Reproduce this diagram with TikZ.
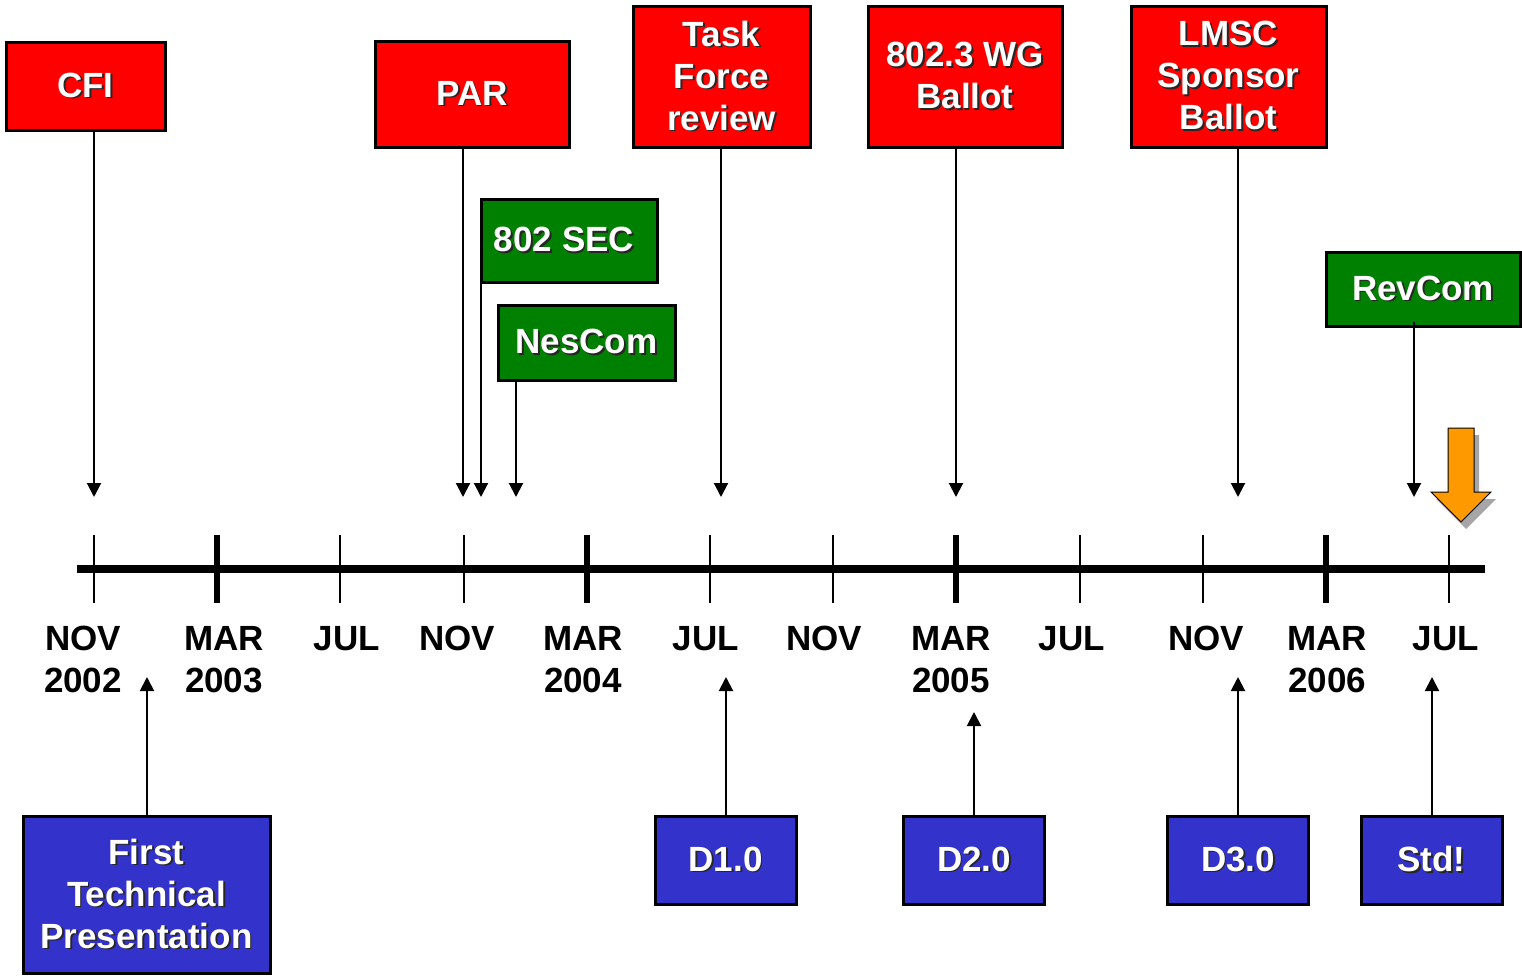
\documentclass[tikz,border=0pt]{standalone}
\usepackage{fontspec}
\setmainfont{Liberation Sans}
\usetikzlibrary{arrows.meta, calc}

\definecolor{evred}{RGB}{255,0,0}
\definecolor{evgreen}{RGB}{0,128,0}
\definecolor{evblue}{RGB}{51,51,204}
\definecolor{evorange}{RGB}{255,153,0}

% white text with a small dark drop shadow
\newcommand{\shd}[1]{\makebox[0pt][l]{\hspace{0.9pt}\raisebox{-0.9pt}{\textcolor{black!85}{#1}}}#1}

\tikzset{
  box/.style={draw=black, line width=1.5pt, text=white, align=center,
    font=\fontsize{17.5}{21}\selectfont\bfseries, inner sep=0pt},
  redbox/.style={box, fill=evred},
  greenbox/.style={box, fill=evgreen},
  bluebox/.style={box, fill=evblue},
  arr/.style={line width=1pt, -{Triangle[length=7pt, width=7pt]}},
  datelbl/.style={align=center, font=\fontsize{17.5}{21}\selectfont\bfseries}
}

\begin{document}
\begin{tikzpicture}[x=0.5pt, y=-0.5pt]
  \useasboundingbox (0,0) rectangle (1522,976);

  % Timeline
  \draw[line width=4pt] (77,569) -- (1485,569);
  \foreach \i in {0,...,11} {
    \pgfmathsetmacro{\tx}{94+123.2*\i}
    \pgfmathtruncatemacro{\thick}{mod(\i,3)==1}
    \ifnum\thick=1
      \draw[line width=3pt] (\tx,535) -- (\tx,603);
    \else
      \draw[line width=1pt] (\tx,535) -- (\tx,603);
    \fi
  }
  % Dates
  \foreach \lx/\lt in {83/{NOV\\2002}, 224/{MAR\\2003}, 347/{JUL\\\strut}, 457/{NOV\\\strut},
      583/{MAR\\2004}, 706/{JUL\\\strut}, 824/{NOV\\\strut}, 951/{MAR\\2005},
      1072/{JUL\\\strut}, 1206/{NOV\\\strut}, 1327/{MAR\\2006}, 1446/{JUL\\\strut}}
    \node[datelbl, anchor=north] at (\lx,619) {\lt};

  % Red milestones
  \node[redbox, minimum width=79.5pt, minimum height=44pt] (cfi) at (85.5,86) {\shd{CFI}};
  \node[redbox, minimum width=97pt, minimum height=53pt] (par) at (472,94) {\shd{PAR}};
  \node[redbox, minimum width=88.5pt, minimum height=70.5pt] (tf) at (721.5,76.5) {\shd{Task}\\\shd{Force}\\\shd{review}};
  \node[redbox, minimum width=97pt, minimum height=70.5pt] (wg) at (965,76.5) {\shd{802.3 WG}\\\shd{Ballot}};
  \node[redbox, minimum width=97.5pt, minimum height=70.5pt] (lmsc) at (1228.5,76.5) {\shd{LMSC}\\\shd{Sponsor}\\\shd{Ballot}};
  % Green milestones
  \node[greenbox, minimum width=88pt, minimum height=41.5pt] (sec) at (569,240.5) {\shd{802 SEC}\hspace{5pt}};
  \node[greenbox, minimum width=88.5pt, minimum height=37.5pt] (nes) at (586.5,342.5) {\shd{NesCom}};
  \node[greenbox, minimum width=97pt, minimum height=37pt] (rev) at (1423,289) {\shd{RevCom}};
  % Blue drafts
  \node[bluebox, minimum width=123.5pt, minimum height=78.5pt] (ftp) at (146.5,894.5) {\shd{First}\\\shd{Technical}\\\shd{Presentation}};
  \node[bluebox, minimum width=70.5pt, minimum height=44pt] (d1) at (725.5,860) {\shd{D1.0}};
  \node[bluebox, minimum width=70.5pt, minimum height=44pt] (d2) at (974,860) {\shd{D2.0}};
  \node[bluebox, minimum width=70.5pt, minimum height=44pt] (d3) at (1238,860) {\shd{D3.0}};
  \node[bluebox, minimum width=70.5pt, minimum height=44pt] (std) at (1431.5,860) {\shd{Std!}};

  % Arrow tips
  \coordinate (cfiT) at (94,497);
  \coordinate (parT) at (463,497);
  \coordinate (secT) at (481,497);
  \coordinate (nesT) at (516,497);
  \coordinate (tfT) at (721,497);
  \coordinate (wgT) at (956,497);
  \coordinate (lmscT) at (1238,497);
  \coordinate (revT) at (1414,497);
  \coordinate (ftpT) at (147,677);
  \coordinate (d1T) at (726,677);
  \coordinate (d2T) at (974,712);
  \coordinate (d3T) at (1238,677);
  \coordinate (stdT) at (1432,677);

  \draw[arr] (cfiT |- cfi.south) -- (cfiT);
  \draw[arr] (parT |- par.south) -- (parT);
  \draw[arr] (secT |- sec.south) -- (secT);
  \draw[arr] (nesT |- nes.south) -- (nesT);
  \draw[arr] (tfT |- tf.south) -- (tfT);
  \draw[arr] (wgT |- wg.south) -- (wgT);
  \draw[arr] (lmscT |- lmsc.south) -- (lmscT);
  \draw[arr] ($(revT |- rev.south)+(0,-6)$) -- (revT);
  \draw[arr] (ftpT |- ftp.north) -- (ftpT);
  \draw[arr] (d1T |- d1.north) -- (d1T);
  \draw[arr] (d2T |- d2.north) -- (d2T);
  \draw[arr] (d3T |- d3.north) -- (d3T);
  \draw[arr] (stdT |- std.north) -- (stdT);

  % Orange "now" arrow with shadow
  \fill[gray!70, shift={(5,7)}]
    (1448,428) -- (1474,428) -- (1474,492) -- (1491,492) -- (1461,522) -- (1431,492) -- (1448,492) -- cycle;
  \filldraw[fill=evorange, draw=black, line width=0.5pt]
    (1448,428) -- (1474,428) -- (1474,492) -- (1491,492) -- (1461,522) -- (1431,492) -- (1448,492) -- cycle;
\end{tikzpicture}
\end{document}
